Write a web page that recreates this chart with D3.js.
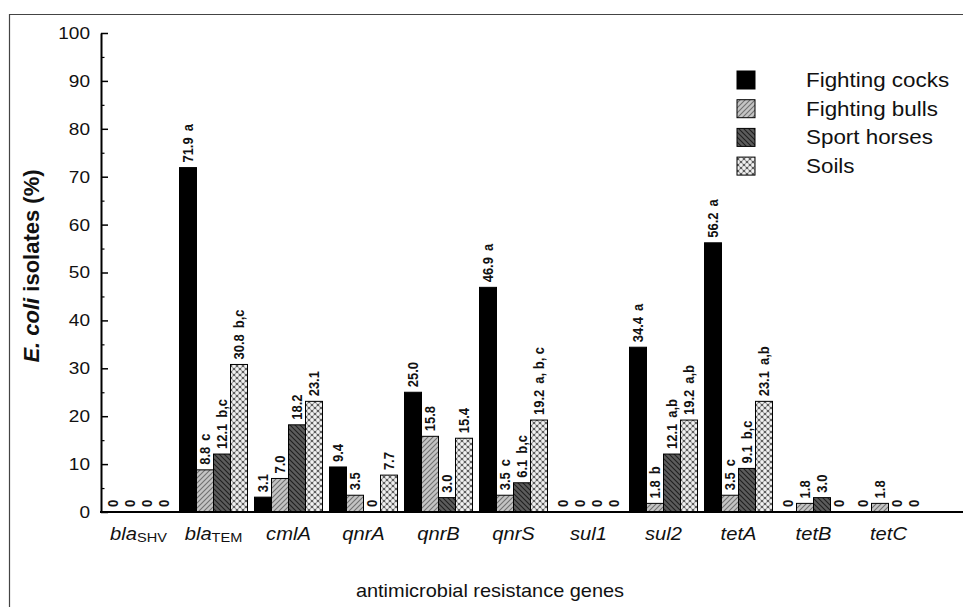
<!DOCTYPE html>
<html><head><meta charset="utf-8">
<script src="https://cdn.jsdelivr.net/npm/d3@7"></script>
<style>body{margin:0;background:#fff} svg{display:block} text{font-family:"Liberation Sans",Arial,Helvetica,sans-serif;fill:#111}</style>
</head><body><svg id="c" width="963" height="607"></svg>
<script>
// ---- data ----
const categories = ["blaSHV","blaTEM","cmlA","qnrA","qnrB","qnrS","sul1","sul2","tetA","tetB","tetC"];
const catBase = ["bla","bla","cmlA","qnrA","qnrB","qnrS","sul1","sul2","tetA","tetB","tetC"];
const catSub  = ["SHV","TEM","","","","","","","","",""];
const seriesNames = ["Fighting cocks","Fighting bulls","Sport horses","Soils"];
const cocks  = [0,71.9,3.1,9.4,25.0,46.9,0,34.4,56.2,0,0];
const bulls  = [0,8.8,7.0,3.5,15.8,3.5,0,1.8,3.5,1.8,1.8];
const horses = [0,12.1,18.2,0,3.0,6.1,0,12.1,9.1,3.0,0];
const soils  = [0,30.8,23.1,7.7,15.4,19.2,0,19.2,23.1,0,0];
const cocksSig  = ["","a","","","","a","","a","a","",""];
const bullsSig  = ["","c","","","","c","","b","c","",""];
const horsesSig = ["","b,c","","","","b,c","","a,b","b,c","",""];
const soilsSig  = ["","b,c","","","","a, b, c","","a,b","a,b","",""];
const yMajor = [0,10,20,30,40,50,60,70,80,90,100];
const yMinor = [5,15,25,35,45,55,65,75,85,95];

const seriesValues = [cocks, bulls, horses, soils];
const seriesSig = [cocksSig, bullsSig, horsesSig, soilsSig];
const fills = ["#000","url(#pBulls)","url(#pHorses)","url(#pSoils)"];
const SX = 1.12;

const svg = d3.select("#c");
const defs = svg.append("defs");
// patterns
let p = defs.append("pattern").attr("id","pBulls").attr("patternUnits","userSpaceOnUse").attr("width",5).attr("height",5);
p.append("rect").attr("width",5).attr("height",5).attr("fill","#c4c4c4");
p.append("path").attr("d","M-1,6 L6,-1 M-1,1 L1,-1 M4,6 L6,4").attr("stroke","#707070").attr("stroke-width",1.1);
p = defs.append("pattern").attr("id","pHorses").attr("patternUnits","userSpaceOnUse").attr("width",5).attr("height",5);
p.append("rect").attr("width",5).attr("height",5).attr("fill","#5c5c5c");
p.append("path").attr("d","M-1,-1 L6,6 M4,-1 L6,1 M-1,4 L1,6").attr("stroke","#1e1e1e").attr("stroke-width",1.1);
p = defs.append("pattern").attr("id","pSoils").attr("patternUnits","userSpaceOnUse").attr("width",6).attr("height",6);
p.append("rect").attr("width",6).attr("height",6).attr("fill","#5e5e5e");
[[0,0],[6,0],[0,6],[6,6],[3,3]].forEach(([cx,cy])=>p.append("circle").attr("cx",cx).attr("cy",cy).attr("r",1.9).attr("fill","#f2f2f2"));

// frame
svg.append("path").attr("d","M9.5,607 V14.5 H963").attr("fill","none").attr("stroke","#444").attr("stroke-width",1.2);

// scales
const x = d3.scaleBand().domain(categories).range([101, 926]).paddingInner(0).paddingOuter(0);
const groupW = 68;
const xs = d3.scaleBand().domain(seriesNames).range([0, groupW]);
const off = (x.bandwidth() - groupW) / 2;
const y = d3.scaleLinear().domain([0,100]).range([512, 33]);

// bars
seriesNames.forEach((s, si) => {
  const vals = seriesValues[si];
  svg.append("g").selectAll("rect").data(categories.map((c,i)=>({c, v: vals[i]})).filter(d=>d.v>0))
    .join("rect")
    .attr("x", d => x(d.c) + off + xs(s))
    .attr("y", d => y(d.v))
    .attr("width", xs.bandwidth())
    .attr("height", d => y(0) - y(d.v))
    .attr("fill", fills[si])
    .attr("stroke", "#000").attr("stroke-width", 1);
});

// value labels
seriesNames.forEach((s, si) => {
  const vals = seriesValues[si], sig = seriesSig[si];
  const t = svg.append("g").selectAll("g").data(categories.map((c,i)=>({c, v: vals[i], sg: sig[i]})))
    .join("g")
    .attr("transform", d => `translate(${x(d.c) + off + xs(s) + xs.bandwidth()/2},${y(d.v) - 5}) scale(${SX},1) rotate(-90)`)
    .append("text")
    .attr("dy","0.36em")
    .attr("text-anchor","start")
    .style("font-size","13px").style("font-weight","bold");
  t.append("tspan").text(d => d.v === 0 ? "0" : d.v.toFixed(1));
  t.filter(d => d.sg).append("tspan").attr("dx", 6).text(d => d.sg);
});

// y axis
const yAxis = d3.axisLeft(y).tickValues(yMajor).tickSizeInner(-7).tickSizeOuter(0).tickPadding(11);
const gy = svg.append("g").attr("transform","translate(101,0)").call(yAxis);
gy.select(".domain").attr("stroke","#000").attr("stroke-width",2);
gy.selectAll(".tick line").attr("stroke","#000").attr("stroke-width",1.5);
gy.selectAll(".tick text").attr("transform",`scale(${SX},1)`).attr("x",-11/SX)
  .style("font-size","17px").style("fill","#111");
const yAxisMinor = d3.axisLeft(y).tickValues(yMinor).tickSizeInner(-3.5).tickSizeOuter(0).tickFormat("");
const gym = svg.append("g").attr("transform","translate(101,0)").call(yAxisMinor);
gym.select(".domain").remove();
gym.selectAll(".tick line").attr("stroke","#000").attr("stroke-width",1.2);

// x axis
const xAxis = d3.axisBottom(x).tickSize(0).tickFormat("");
const gx = svg.append("g").attr("transform","translate(0,512)").call(xAxis);
gx.select(".domain").remove();
gx.selectAll(".tick").each(function(d, i) {
  const t = d3.select(this).append("g").attr("transform",`translate(0,28) scale(${SX},1)`)
    .append("text").attr("text-anchor","middle").style("font-size","18px");
  t.append("tspan").style("font-style","italic").text(catBase[i]);
  if (catSub[i]) t.append("tspan").style("font-size","13px").attr("dy","2").text(catSub[i]);
});
svg.append("line").attr("x1",100).attr("x2",963).attr("y1",512).attr("y2",512).attr("stroke","#000").attr("stroke-width",2);

// axis titles
const yt = svg.append("g").attr("transform","translate(31,266) rotate(-90)")
  .append("text").attr("text-anchor","middle").attr("dy","0.36em")
  .style("font-size","22px").style("font-weight","bold");
yt.append("tspan").style("font-style","italic").text("E. coli");
yt.append("tspan").text(" isolates (%)");
svg.append("g").attr("transform",`translate(490,597) scale(1.05,1)`)
  .append("text").attr("text-anchor","middle").style("font-size","19px").text("antimicrobial resistance genes");

// legend
const leg = svg.append("g");
seriesNames.forEach((s, i) => {
  const yy = 71 + i * 28.7;
  leg.append("rect").attr("x",737).attr("y",yy).attr("width",18).attr("height",18)
    .attr("fill",fills[i]).attr("stroke","#000").attr("stroke-width",1);
  leg.append("g").attr("transform",`translate(806,${yy+16}) scale(${SX},1)`)
    .append("text").style("font-size","20px").text(s);
});
</script></body></html>
